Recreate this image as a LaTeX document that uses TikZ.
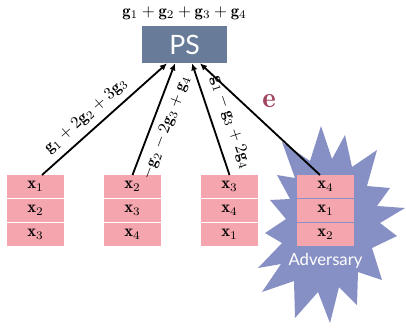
\documentclass[tikz,border=0pt]{standalone}
\usepackage{fontspec}
\newfontfamily\labelfont{Lato}
\usetikzlibrary{arrows.meta,positioning}

\definecolor{psblue}{HTML}{687C9A}
\definecolor{cellpink}{HTML}{F4A5AD}
\definecolor{advblue}{HTML}{8790C4}
\definecolor{errred}{HTML}{A24660}

\begin{document}
\begin{tikzpicture}[
    x=0.6pt, y=-0.6pt,
    cell/.style={rectangle, fill=cellpink, minimum width=34.2pt, minimum height=13.8pt, inner sep=0pt, outer sep=0pt},
    server/.style={rectangle, fill=psblue, text=white, minimum width=51pt, minimum height=22.2pt, font=\labelfont\fontsize{16}{18}\selectfont},
    arrow/.style={-{Latex[length=4.2pt,width=3.8pt]}, line width=1.1pt, draw=black},
    msg/.style={sloped, font=\normalsize, inner sep=4pt}
]
\useasboundingbox (0,0) rectangle (406,328);

% === Adversary star (behind the last worker) ===
\fill[advblue] (321,126) -- (332,159) -- (345,135) -- (352,167) -- (377,150) -- (367,186)
    -- (390,188) -- (377,206) -- (405,208) -- (380,223) -- (397,236) -- (372,248)
    -- (382,280) -- (358,272) -- (357,305) -- (339,287) -- (330,323) -- (318,292)
    -- (295,318) -- (294,281) -- (262,292) -- (281,264) -- (258,268) -- (282,243)
    -- (265,233) -- (286,219) -- (270,200) -- (290,199) -- (277,175) -- (295,178)
    -- (282,142) -- (310,161) -- cycle;

% === Parameter server ===
\node[server] (ps) at (184.5,44.5) {PS};
\node[above=0pt of ps] (sum) {$\mathbf{g}_1+\mathbf{g}_2+\mathbf{g}_3+\mathbf{g}_4$};

% === Workers (one column each) ===
\node[cell] (w1a) at (35.5,186.5) {$\mathbf{x}_1$};
\node[cell, below=0.6pt of w1a] (w1b) {$\mathbf{x}_2$};
\node[cell, below=0.6pt of w1b] (w1c) {$\mathbf{x}_3$};

\node[cell] (w2a) at (132.5,186.5) {$\mathbf{x}_2$};
\node[cell, below=0.6pt of w2a] (w2b) {$\mathbf{x}_3$};
\node[cell, below=0.6pt of w2b] (w2c) {$\mathbf{x}_4$};

\node[cell] (w3a) at (229.5,186.5) {$\mathbf{x}_3$};
\node[cell, below=0.6pt of w3a] (w3b) {$\mathbf{x}_4$};
\node[cell, below=0.6pt of w3b] (w3c) {$\mathbf{x}_1$};

\node[cell] (w4a) at (325.5,186.5) {$\mathbf{x}_4$};
\node[cell, below=0.6pt of w4a] (w4b) {$\mathbf{x}_1$};
\node[cell, below=0.6pt of w4b] (w4c) {$\mathbf{x}_2$};

\node[text=white, font=\labelfont, below=1pt of w4c] (adv) {Adversary};

% === Coded gradients sent to the PS ===
\draw[arrow] ([xshift=3.9pt]w1a.north) -- node[msg, above, pos=0.43] {$\mathbf{g}_1+2\mathbf{g}_2+3\mathbf{g}_3$} ([xshift=-10.5pt]ps.south);
\draw[arrow] (w2a.north) -- node[msg, below, pos=0.47] {$-\mathbf{g}_2-2\mathbf{g}_3+\mathbf{g}_4$} ([xshift=-5.7pt]ps.south);
\draw[arrow] (w3a.north) -- node[msg, above=2pt, pos=0.42] {$\mathbf{g}_1-\mathbf{g}_3+2\mathbf{g}_4$} ([xshift=4.5pt]ps.south);
\draw[arrow] ([xshift=-3.3pt]w4a.north) -- node[pos=0.66, right=9pt, text=errred, font=\LARGE] (err) {$\mathbf{e}$} ([xshift=9.3pt]ps.south);

\end{tikzpicture}
\end{document}
